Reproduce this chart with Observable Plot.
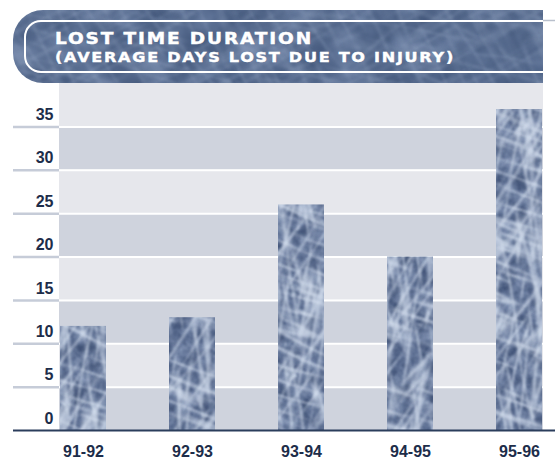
<!DOCTYPE html>
<html>
<head>
<meta charset="utf-8">
<script src="https://cdn.jsdelivr.net/npm/d3@7"></script>
<script src="https://cdn.jsdelivr.net/npm/@observablehq/plot@0.6"></script>
<style>
  body { margin: 0; background: #fff; }
  svg { display: block; }
</style>
</head>
<body>
<div id="chart"></div>
<script>
// Average days lost due to injury, per season
const seasons = ["91-92", "92-93", "93-94", "94-95", "95-96"];
const daysLost = [12, 13, 26, 20, 37];
const yTicks = [0, 5, 10, 15, 20, 25, 30, 35];
const yMax = 40;
const titleLine1 = "LOST TIME DURATION";
const titleLine2 = "(AVERAGE DAYS LOST DUE TO INJURY)";

const W = 555, H = 466;
const ink = "#1d2d4a";

const rows = seasons.map((s, i) => ({season: s, days: daysLost[i]}));
// alternating horizontal bands, one per tick interval
const bands = yTicks.map((t, i) => ({y1: t, y2: t + 5, fill: i % 2 === 0 ? "#cfd3dd" : "#e6e7ec"}));

const chart = Plot.plot({
  width: W,
  height: H,
  marginTop: 83,
  marginBottom: 36,
  marginLeft: 59,
  marginRight: 12,
  style: {background: "#fff", fontFamily: "'Liberation Sans', Arial, sans-serif"},
  x: {domain: seasons, paddingInner: 0.58, paddingOuter: 0, axis: null},
  y: {domain: [0, yMax], axis: null},
  color: {type: "identity"},
  marks: [
    Plot.rect(bands, {y1: "y1", y2: "y2", fill: "fill"}),
    Plot.ruleY(yTicks.slice(1), {stroke: "#fff", strokeWidth: 2}),
    // short tick strokes in the left margin
    Plot.ruleY(yTicks.slice(1), {stroke: "#c6ccd8", strokeWidth: 2.5, insetLeft: -46, insetRight: 484}),
    Plot.barY(rows, {x: "season", y: "days", fill: "url(#fiberBar)"}),
    Plot.ruleY([0], {stroke: "#2b3d5c", strokeWidth: 2, insetLeft: -46, insetRight: -12}),
    Plot.text(yTicks, {
      y: d => d, text: d => String(d), frameAnchor: "left", textAnchor: "end",
      dx: -6, dy: -12, fontSize: 16, fontWeight: "bold", fill: ink
    }),
    Plot.text(rows, {
      x: "season", text: "season", frameAnchor: "bottom", dy: 26,
      fontSize: 16, fontWeight: "bold", fill: ink
    })
  ]
});

const svg = d3.select(chart);
const defs = svg.insert("defs", ":first-child");
const R = {x: -500, y: -500, width: 1600, height: 1500};

function newFilter(id) {
  return defs.append("filter")
    .attr("id", id)
    .attr("filterUnits", "userSpaceOnUse")
    .attr("x", R.x).attr("y", R.y).attr("width", R.width).attr("height", R.height)
    .attr("color-interpolation-filters", "sRGB");
}

// turbulence red channel copied to grey, fully opaque
function greyNoise(f, type, freq, octaves, seed) {
  f.append("feTurbulence").attr("type", type).attr("baseFrequency", freq)
    .attr("numOctaves", octaves).attr("seed", seed);
  f.append("feColorMatrix").attr("type", "matrix")
    .attr("values", "1 0 0 0 0  1 0 0 0 0  1 0 0 0 0  0 0 0 0 1");
}

// mottled base: fractal noise mapped through a blue-grey palette
function baseFilter(id, seed, freq, r, g, b) {
  const f = newFilter(id);
  greyNoise(f, "fractalNoise", freq, 3, seed);
  const ct = f.append("feComponentTransfer");
  ct.append("feFuncR").attr("type", "table").attr("tableValues", r);
  ct.append("feFuncG").attr("type", "table").attr("tableValues", g);
  ct.append("feFuncB").attr("type", "table").attr("tableValues", b);
}

// long pale streaks: stretched turbulence, bright only near its zero lines
function streakFilter(id, seed, freq, alpha, color, blur) {
  const f = newFilter(id);
  greyNoise(f, "turbulence", freq, 2, seed);
  f.append("feComponentTransfer").append("feFuncR").attr("type", "table").attr("tableValues", alpha);
  f.append("feColorMatrix").attr("type", "matrix")
    .attr("values", `0 0 0 0 ${color[0]}  0 0 0 0 ${color[1]}  0 0 0 0 ${color[2]}  1 0 0 0 0`);
  f.append("feGaussianBlur").attr("stdDeviation", blur);
}

function texture(id, opts) {
  baseFilter(id + "Base", opts.seed, opts.baseFreq, ...opts.palette);
  opts.angles.forEach((a, i) =>
    streakFilter(`${id}S${i}`, opts.seed + 11 * (i + 1), opts.streakFreq, opts.streakAlpha, opts.streakColor, opts.blur));
  const p = defs.append("pattern")
    .attr("id", id)
    .attr("patternUnits", "userSpaceOnUse")
    .attr("x", 0).attr("y", 0).attr("width", W).attr("height", H);
  p.append("rect").attr("width", W).attr("height", H).attr("filter", `url(#${id}Base)`);
  opts.angles.forEach((a, i) => {
    p.append("g").attr("transform", `rotate(${a},${W / 2},${H / 2})`)
      .append("rect")
      .attr("x", -300).attr("y", -300).attr("width", W + 600).attr("height", H + 600)
      .attr("filter", `url(#${id}S${i})`);
  });
}

texture("fiberBar", {
  seed: 5,
  baseFreq: "0.07",
  palette: [
    "0.20 0.27 0.36 0.46 0.58",
    "0.27 0.34 0.43 0.53 0.65",
    "0.41 0.48 0.57 0.66 0.76"
  ],
  angles: [-55, 20, 80, 100],
  streakFreq: "0.006 0.07",
  streakAlpha: "0.8 0.45 0.08 0 0 0 0 0 0 0 0 0 0",
  streakColor: [0.84, 0.88, 0.94],
  blur: 0.9
});

texture("fiberHead", {
  seed: 2,
  baseFreq: "0.03",
  palette: [
    "0.25 0.28 0.32 0.37 0.44",
    "0.32 0.36 0.40 0.45 0.51",
    "0.46 0.50 0.54 0.59 0.65"
  ],
  angles: [-30, 15, 60],
  streakFreq: "0.008 0.07",
  streakAlpha: "0.3 0.12 0 0 0 0 0 0",
  streakColor: [0.6, 0.67, 0.78],
  blur: 1
});

// title banner
const head = svg.append("g").attr("text-anchor", "start");
head.append("path")
  .attr("d", "M543,10 H43 A30,30 0 0 0 13,40 V53 A30,30 0 0 0 43,83 H543 Z")
  .attr("fill", "url(#fiberHead)");
head.append("path")
  .attr("d", "M543,21 H41 A16,16 0 0 0 25,37 V56 A16,16 0 0 0 41,72 H543")
  .attr("fill", "none").attr("stroke", "#fff").attr("stroke-width", 2);
head.append("path")
  .attr("d", "M543,20.5 H555")
  .attr("stroke", "#b9c0cc").attr("stroke-width", 1.5);
[[titleLine1, 43.5, 258, 15], [titleLine2, 61.5, 400, 14]].forEach(([t, y, len, size]) => {
  head.append("text")
    .attr("x", 55).attr("y", y)
    .attr("text-anchor", "start")
    .attr("letter-spacing", 1.5)
    .attr("textLength", len).attr("lengthAdjust", "spacingAndGlyphs")
    .attr("font-family", "'DejaVu Sans', sans-serif")
    .attr("font-weight", "bold").attr("font-size", size)
    .attr("fill", "#fff").attr("stroke", "#fff").attr("stroke-width", 0.4)
    .text(t);
});

document.getElementById("chart").appendChild(chart);
</script>
</body>
</html>
